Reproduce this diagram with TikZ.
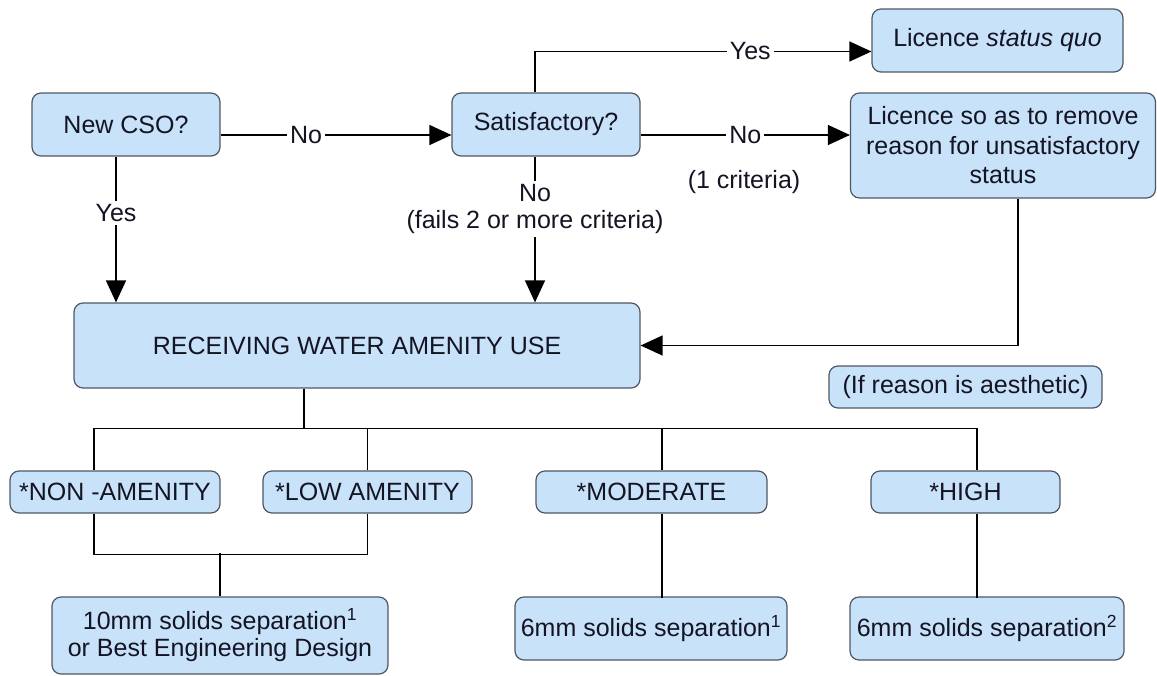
\documentclass[tikz,border=0pt]{standalone}
\usepackage{fontspec}
\setmainfont{Liberation Sans}
\usetikzlibrary{arrows.meta,positioning}
\definecolor{boxblue}{RGB}{200,226,250}
\definecolor{boxline}{RGB}{80,88,100}
\definecolor{ink}{RGB}{20,20,35}

\begin{document}
\begin{tikzpicture}[x=1pt, y=-1pt, line width=1.3pt,
  font=\fontsize{25}{27}\selectfont, text=ink,
  box/.style={draw=boxline, fill=boxblue, rounded corners=9pt, line width=1.2pt, align=center, inner sep=0pt},
  lbl/.style={fill=white, inner sep=3pt, align=center},
  arr/.style={-{Triangle[length=22pt,width=20pt]}}]
  \useasboundingbox (0,0) rectangle (1157,675);
  % boxes
  \node[box, minimum width=188, minimum height=63] (cso) at (126,124.5) {New CSO?};
  \node[box, minimum width=188, minimum height=63] (sat) at (546,124.5) {Satisfactory?};
  \node[box, minimum width=251, minimum height=63] (quo) at (997.5,40.5) {Licence \textit{status quo}};
  \node[box, minimum width=305, minimum height=105, font=\fontsize{25}{29.5}\selectfont] (lic) at (1003,145.5) {Licence so as to remove\\reason for unsatisfactory\\status};
  \node[box, minimum width=566, minimum height=85] (recv) at (357,345.5) {RECEIVING WATER AMENITY USE};
  \node[box, minimum width=273, minimum height=42] (aes) at (965.5,387) {(If reason is aesthetic)};
  \node[box, minimum width=210, minimum height=42] (non) at (115,492) {*NON -AMENITY};
  \node[box, minimum width=209, minimum height=42] (low) at (367.5,492) {*LOW AMENITY};
  \node[box, minimum width=231, minimum height=42] (mod) at (651.5,492) {*MODERATE};
  \node[box, minimum width=189, minimum height=42] (high) at (965.5,492) {*HIGH};
  \node[box, minimum width=336, minimum height=77] (ten) at (220,635.5) {10mm solids separation\textsuperscript{1}\\or Best Engineering Design};
  \node[box, minimum width=272, minimum height=63] (sixa) at (651,628.5) {6mm solids separation\textsuperscript{1}};
  \node[box, minimum width=274, minimum height=63] (sixb) at (987,628.5) {6mm solids separation\textsuperscript{2}};
  % labels
  \node[lbl] (yesa) at (116,213) {Yes};
  \node[lbl] (fail) at (535,209) {No\\(fails 2 or more criteria)};
  \node (crit) at (744,182) {(1 criteria)};
  % top row
  \coordinate (csoout) at ([yshift=-10.5pt]cso.east);
  \coordinate (satout) at ([yshift=-10.5pt]sat.east);
  \draw[arr] (csoout) -- (csoout -| sat.west) node[lbl, pos=0.37] (noa) {No};
  \draw[arr] (satout) -- (satout -| lic.west) node[lbl, pos=0.5] (nob) {No};
  \draw[arr] ([xshift=-11pt]sat.north) |- ([yshift=-11pt]quo.west) node[lbl, pos=0.82] (yesb) {Yes};
  \draw ([xshift=-10pt]cso.south) -- (yesa);
  \draw[arr] (yesa) -- (yesa |- recv.north);
  \draw ([xshift=-11pt]sat.south) -- (fail);
  \draw[arr] (fail) -- (fail |- recv.north);
  \draw[arr] ([xshift=15pt]lic.south) |- (recv.east);
  % amenity categories
  \coordinate (recvout) at ([xshift=-53pt]recv.south);
  \coordinate (busl) at ([xshift=-21pt, yshift=42pt]non.north);
  \coordinate (busr) at ([xshift=11.5pt, yshift=42pt]high.north);
  \draw (recvout) -- (recvout |- busl);
  \draw (busl) -- (busr);
  \foreach \n/\dx in {non/-21, low/0, mod/10.5, high/11.5}
    \draw ([xshift=\dx pt]\n.north) -- ++(0,-42);
  \draw ([xshift=-21pt]non.south) -- ++(0,41) -| (low.south);
  \draw (ten.north) -- ++(0,-43);
  \draw ([xshift=10.5pt]mod.south) -- ++(0,84);
  \draw ([xshift=11.5pt]high.south) -- ++(0,84);
\end{tikzpicture}
\end{document}
